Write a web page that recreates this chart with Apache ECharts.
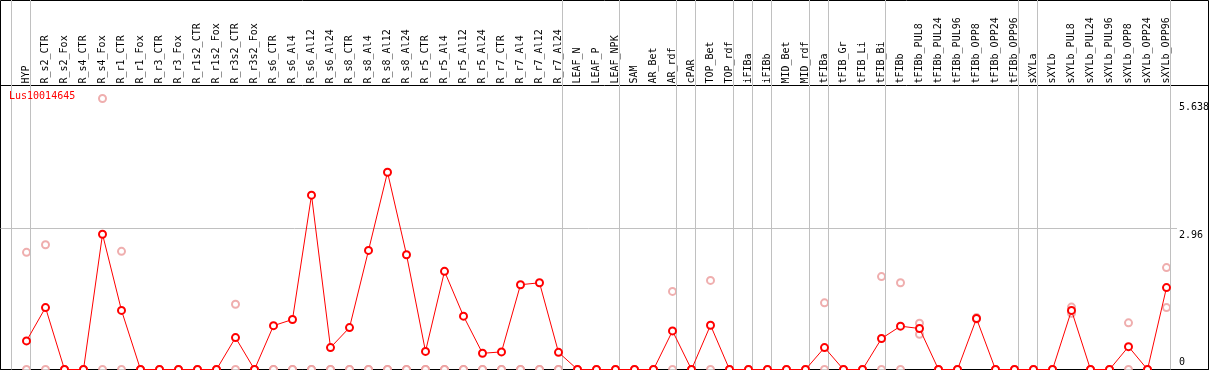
<!DOCTYPE html>
<html>
<head>
<meta charset="utf-8">
<script src="https://cdn.jsdelivr.net/npm/echarts@6/dist/echarts.min.js"></script>
<style>
html,body{margin:0;padding:0;background:#fff;}
#chart{width:1209px;height:370px;}
</style>
</head>
<body>
<div id="chart"></div>
<script>
// ---------------- DATA ----------------
const geneName = 'Lus10014645';
const categories = ['HYP','R_s2_CTR','R_s2_Fox','R_s4_CTR','R_s4_Fox','R_r1_CTR','R_r1_Fox','R_r3_CTR','R_r3_Fox',
  'R_r1s2_CTR','R_r1s2_Fox','R_r3s2_CTR','R_r3s2_Fox','R_s6_CTR','R_s6_Al4','R_s6_Al12','R_s6_Al24',
  'R_s8_CTR','R_s8_Al4','R_s8_Al12','R_s8_Al24','R_r5_CTR','R_r5_Al4','R_r5_Al12','R_r5_Al24',
  'R_r7_CTR','R_r7_Al4','R_r7_Al12','R_r7_Al24','LEAF_N','LEAF_P','LEAF_NPK','SAM','AR_Bet','AR_rdf',
  'cPAR','TOP_Bet','TOP_rdf','iFIBa','iFIBb','MID_Bet','MID_rdf','tFIBa','tFIB_Gr','tFIB_Li','tFIB_Bi',
  'tFIBb','tFIBb_PUL8','tFIBb_PUL24','tFIBb_PUL96','tFIBb_OPP8','tFIBb_OPP24','tFIBb_OPP96',
  'sXYLa','sXYLb','sXYLb_PUL8','sXYLb_PUL24','sXYLb_PUL96','sXYLb_OPP8','sXYLb_OPP24','sXYLb_OPP96'];
// main (line) values
const meanValues = [0.60,1.30,0,0,2.84,1.24,0,0,0,0,0,0.67,0,0.92,1.05,3.66,0.46,0.88,2.50,4.14,
  2.41,0.38,2.06,1.12,0.34,0.37,1.78,1.82,0.36,0,0,0,0,0,0.81,0,0.93,0,0,0,0,0,0.46,0,0,0.65,
  0.91,0.86,0,0,1.07,0,0,0,0,1.24,0,0,0.48,0,1.72];
// replicate values (faded circles)
const replicateA = [2.46,2.62,0,0,5.69,2.48,0,0,0,0,0,1.37,0,0,0,0,0,0,0,0,
  0,0,0,0,0,0,0,0,0,0,0,0,0,0,1.64,0,1.87,0,0,0,0,0,1.40,0,0,1.95,
  1.82,0.97,0,0,1.09,0,0,0,0,1.31,0,0,0.98,0,2.14];
const replicateB = [0,0,0,0,0,0,0,0,0,0,0,0,0,0,0,0,0,0,0,0,
  0,0,0,0,0,0,0,0,0,0,0,0,0,0,0,0,0,0,0,0,0,0,0,0,0,0,
  0,0.74,0,0,1.06,0,0,0,0,1.18,0,0,0,0,1.30];
// index of the last category of each sample group (-1 = left edge line)
const groupEnds = [-1,0,28,31,34,35,37,38,39,41,42,45,52,53,60];
// right-hand scale labels
const scaleLabels = [0, 2.96, 5.638];
const gridValue = 2.96;

// ---------------- LAYOUT ----------------
const FONT = 'DejaVu Sans Mono';
const band = 19, firstCenter = 26.5;
const plotTop = 85.5, plotBottom = 369.5;
const yMax = 5.962;
const leftEdge = 0.5, fullW = 1208;
const eMin = (leftEdge - firstCenter) / band;
const eMax = eMin + fullW / band;
const lineOffset = 4 / band;

const chart = echarts.init(document.getElementById('chart'), null, {renderer: 'canvas'});
const hidden = {show: false};
const labelRich = {
  down: {color: '#000', fontSize: 10, fontFamily: FONT, padding: [13, 0, 0, 0]},
  up: {color: '#000', fontSize: 10, fontFamily: FONT, padding: [0, 0, 14, 0]}
};
const option = {
  animation: false,
  backgroundColor: '#fff',
  title: {
    text: geneName, left: 9, top: 91, padding: 0,
    textStyle: {color: '#ff0000', fontSize: 10, fontFamily: FONT, fontWeight: 'normal'}
  },
  grid: [
    {left: leftEdge, top: 0.5, width: fullW, height: 369, show: true, borderColor: '#000', borderWidth: 1, backgroundColor: 'transparent'},
    {left: leftEdge, top: plotTop, width: fullW, height: plotBottom - plotTop, show: true, borderColor: '#000', borderWidth: 1, backgroundColor: 'transparent'},
    {left: leftEdge, top: plotTop, width: 1176.5, height: plotBottom - plotTop},
    {left: 17, top: plotTop, width: band * categories.length, height: plotBottom - plotTop},
    {left: leftEdge, top: 0, width: fullW, height: plotBottom}
  ],
  xAxis: [
    {gridIndex: 0, type: 'value', show: false},
    {gridIndex: 1, type: 'value', show: false},
    {gridIndex: 2, type: 'value', show: false, min: 0, max: 1},
    {gridIndex: 3, type: 'category', data: categories, position: 'top', boundaryGap: true,
      axisLine: hidden, axisTick: hidden, splitLine: hidden,
      axisLabel: {interval: 0, rotate: 90, margin: 2, fontSize: 10, fontFamily: FONT, color: '#000'}},
    {gridIndex: 4, type: 'value', show: false, min: eMin, max: eMax}
  ],
  yAxis: [
    {gridIndex: 0, type: 'value', show: false},
    {gridIndex: 1, type: 'value', show: false},
    {gridIndex: 2, type: 'value', show: false, min: 0, max: yMax},
    {gridIndex: 3, type: 'value', show: false, min: 0, max: yMax},
    {gridIndex: 4, type: 'value', show: false, min: 0, max: 1}
  ],
  series: [
    { // group separators
      type: 'line', xAxisIndex: 4, yAxisIndex: 4, data: [[0, -5]], symbol: 'none', silent: true,
      lineStyle: {opacity: 0},
      markLine: {
        silent: true, symbol: ['none', 'none'], animation: false,
        lineStyle: {color: '#c0c0c0', width: 1, type: 'solid'},
        label: {show: false},
        data: groupEnds.map(g => ({xAxis: g + lineOffset}))
      }
    },
    { // horizontal reference line and scale labels
      type: 'line', xAxisIndex: 2, yAxisIndex: 2, data: [[0, -5]], symbol: 'none', silent: true,
      lineStyle: {opacity: 0},
      markLine: {
        silent: true, symbol: ['none', 'none'], animation: false,
        data: scaleLabels.map(v => ({
          yAxis: v,
          lineStyle: {color: v === gridValue ? '#c0c0c0' : 'rgba(0,0,0,0)', width: 1, type: 'solid'},
          label: {
            show: true, position: 'end', distance: 2,
            formatter: (v === 0 ? '{up|' : '{down|') + String(v) + '}',
            rich: labelRich
          }
        }))
      }
    },
    {
      name: 'repA', type: 'scatter', xAxisIndex: 3, yAxisIndex: 3, data: replicateA, clip: false,
      symbol: 'emptyCircle', symbolSize: 7, z: 3,
      itemStyle: {color: '#eb9a9a', borderColor: '#eb9a9a', borderWidth: 1.2}
    },
    {
      name: 'repB', type: 'scatter', xAxisIndex: 3, yAxisIndex: 3, data: replicateB, clip: false,
      symbol: 'emptyCircle', symbolSize: 7, z: 3,
      itemStyle: {color: '#eb9a9a', borderColor: '#eb9a9a', borderWidth: 1.2}
    },
    {
      name: 'mean', type: 'line', xAxisIndex: 3, yAxisIndex: 3, data: meanValues, clip: false,
      symbol: 'emptyCircle', symbolSize: 7, showAllSymbol: true, z: 5,
      lineStyle: {color: '#ff0000', width: 1},
      itemStyle: {color: '#ff0000', borderColor: '#ff0000', borderWidth: 1.6}
    }
  ]
};
chart.setOption(option);
</script>
</body>
</html>
